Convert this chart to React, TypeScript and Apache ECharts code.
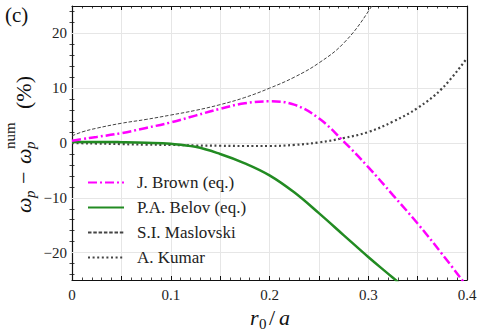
import React, { useEffect, useRef } from 'react';
import * as echarts from 'echarts';

// r0/a sample positions
const xs = [0, 0.01, 0.025, 0.05, 0.075, 0.1, 0.125, 0.15, 0.175, 0.2, 0.225, 0.25, 0.275, 0.3, 0.325, 0.35, 0.375, 0.4];
// ω_p − ω_p^num (%) for each curve
const brown = [0.4, 0.7, 1.1, 1.8, 2.75, 3.75, 5.0, 6.25, 7.25, 7.6, 7.0, 4.5, 0.3, -4.4, -9.5, -14.7, -20.3, -26.2];
const belov = [0.2, 0.2, 0.2, 0.15, 0.05, -0.15, -0.7, -2.0, -3.7, -5.9, -9.0, -12.8, -16.8, -20.8, -24.6, -28.5, -32.5, -36.5];
const maslovski = [1.3, 2.0, 2.7, 3.6, 4.3, 5.1, 5.95, 7.0, 8.3, 10.0, 12.0, 14.6, 18.2, 24.0, 32, 42, 55, 71];
const kumar = [0, -0.05, -0.1, -0.2, -0.3, -0.35, -0.45, -0.5, -0.55, -0.55, -0.35, 0.1, 0.9, 2.0, 3.9, 6.4, 10.0, 15.5];

const seriesNames = ['J. Brown (eq.)', 'P.A. Belov (eq.)', 'S.I. Maslovski', 'A. Kumar'];
const yMajorTicks = [-20, -10, 0, 10, 20];
const yMinorTicks = [-24, -22, -18, -16, -14, -12, -8, -6, -4, -2, 2, 4, 6, 8, 12, 14, 16, 18, 22, 24];

const SERIF = 'serif';

const pairs = (ys: number[]) => xs.map((x, i) => [x, ys[i]]);

const txt = (text: string, x: number, y: number, size: number, italic: boolean) => ({
  type: 'text',
  x,
  y,
  style: {
    text,
    font: `${italic ? 'italic ' : ''}${size}px serif`,
    fill: '#111',
    align: 'left',
    verticalAlign: 'middle',
  },
});

export default function App() {
  const ref = useRef<HTMLDivElement>(null);
  useEffect(() => {
    if (!ref.current) return;
    const chart = echarts.init(ref.current, undefined, { renderer: 'svg' });

    const fmtY = (v: number) => (v < 0 ? '\u2212' + Math.abs(v) : String(v));
    const fmtX = (v: number) => {
      const r = Math.round(v * 100);
      if (r % 10 !== 0) return '';
      return r === 0 ? '0' : String(r / 100);
    };

    const xBase = {
      type: 'value',
      min: 0,
      max: 0.4,
      interval: 0.05,
      axisLine: { show: true, onZero: false, lineStyle: { color: '#111', width: 1.2 } },
      axisTick: { show: true, inside: true, length: 4, lineStyle: { color: '#111', width: 1 } },
      minorTick: { show: true, splitNumber: 5, length: 2.5, lineStyle: { color: '#111', width: 0.8 } },
      splitLine: { show: false },
    };
    const yBase = {
      type: 'value',
      min: -25,
      max: 25,
      axisLine: { show: true, onZero: false, lineStyle: { color: '#111', width: 1.2 } },
      splitLine: { show: false },
    };

    const lineSeries = (name: string, data: number[], color: string, width: number, type: any, z: number) => ({
      name,
      type: 'line',
      data: pairs(data),
      xAxisIndex: 0,
      yAxisIndex: 0,
      smooth: 0.4,
      symbol: 'none',
      showSymbol: false,
      clip: true,
      z,
      lineStyle: { color, width, type },
      itemStyle: { color },
      emphasis: { disabled: true },
    });

    chart.setOption({
      animation: false,
      grid: { left: 72, right: 17, top: 6, bottom: 54, containLabel: false },
      xAxis: [
        {
          ...xBase,
          position: 'bottom',
          splitLine: { show: true, lineStyle: { color: '#e6e6e6', width: 1 } },
          axisLabel: { show: true, margin: 7, formatter: fmtX, fontFamily: SERIF, fontSize: 15, color: '#222' },
        },
        { ...xBase, position: 'top', axisLabel: { show: false } },
      ],
      yAxis: [
        {
          ...yBase,
          position: 'left',
          axisTick: { show: true, inside: true, length: 4, customValues: yMajorTicks, lineStyle: { color: '#111', width: 1 } },
          axisLabel: { show: true, margin: 5, customValues: yMajorTicks, formatter: fmtY, fontFamily: SERIF, fontSize: 15, color: '#222' },
        },
        {
          ...yBase,
          position: 'left',
          axisLine: { show: false },
          axisTick: { show: true, inside: true, length: 2.5, customValues: yMinorTicks, lineStyle: { color: '#111', width: 0.8 } },
          axisLabel: { show: false },
        },
        {
          ...yBase,
          position: 'right',
          axisTick: { show: true, inside: true, length: 4, customValues: yMajorTicks, lineStyle: { color: '#111', width: 1 } },
          axisLabel: { show: false },
        },
        {
          ...yBase,
          position: 'right',
          axisLine: { show: false },
          axisTick: { show: true, inside: true, length: 2.5, customValues: yMinorTicks, lineStyle: { color: '#111', width: 0.8 } },
          axisLabel: { show: false },
        },
      ],
      legend: {
        data: seriesNames,
        orient: 'vertical',
        left: 82,
        top: 169,
        itemWidth: 36,
        itemHeight: 14,
        itemGap: 8,
        selectedMode: false,
        itemStyle: { opacity: 0 },
        textStyle: { fontFamily: SERIF, fontSize: 17, color: '#222', padding: [0, 0, 0, 8] },
      },
      series: [
        {
          name: 'grid-h',
          type: 'line',
          data: [],
          xAxisIndex: 0,
          yAxisIndex: 0,
          z: 1,
          markLine: {
            silent: true,
            z: 1,
            symbol: ['none', 'none'],
            label: { show: false },
            lineStyle: { color: '#e6e6e6', width: 1, type: 'solid' },
            emphasis: { disabled: true },
            data: yMajorTicks.map((v) => ({ yAxis: v })),
          },
        },
        lineSeries(seriesNames[0], brown, '#ff00ff', 2.5, [9, 3, 2, 3], 5),
        lineSeries(seriesNames[1], belov, '#228b22', 2.5, 'solid', 4),
        lineSeries(seriesNames[2], maslovski, '#444444', 1, [3.5, 1.8], 3),
        lineSeries(seriesNames[3], kumar, '#444444', 2.2, [2, 2.6], 3),
      ],
      graphic: [
        txt('(c)', 5, 15, 21, false),
        {
          type: 'group',
          x: 31,
          y: 213,
          rotation: Math.PI / 2,
          children: [
            txt('ω', 0, -7.5, 22, true),
            txt('p', 15, -1, 15, true),
            txt('\u2212', 29, -7.5, 22, false),
            txt('ω', 49, -7.5, 22, true),
            txt('p', 64, -1, 15, true),
            txt('num', 64, -21, 15, false),
            txt('(%)', 104, -7.5, 22, false),
          ],
        },
        {
          type: 'group',
          x: 0,
          y: 0,
          children: [
            txt('r', 250, 317.5, 22, true),
            txt('0', 259, 324, 15, false),
            txt('/', 269, 317.5, 22, false),
            txt('a', 279, 317.5, 22, true),
          ],
        },
      ],
    });
    return () => chart.dispose();
  }, []);
  return <div ref={ref} style={{ position: 'fixed', left: 0, top: 0, width: 484, height: 334, background: '#fff' }} />;
}
